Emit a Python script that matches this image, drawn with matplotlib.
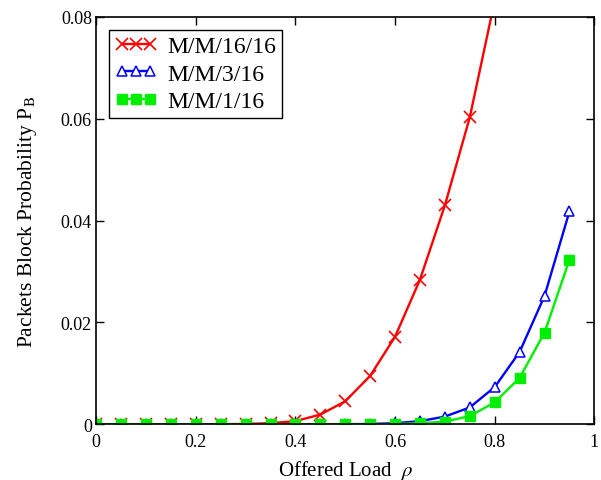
import matplotlib
matplotlib.use('Agg')
import matplotlib.pyplot as plt

# data
rho = [0.0, 0.05, 0.1, 0.15, 0.2, 0.25, 0.3, 0.35, 0.4, 0.45, 0.5,
       0.55, 0.6, 0.65, 0.7, 0.75, 0.8, 0.85, 0.9, 0.95]

pb_16_16 = [0.0, 0.0, 0.0, 0.0, 0.0, 0.0, 0.00005, 0.0002, 0.0006, 0.0019,
            0.0045, 0.0095, 0.0172, 0.0284, 0.0430, 0.0603, 0.0832]
pb_3_16 = [0.0, 0.0, 0.0, 0.0, 0.0, 0.0, 0.0, 0.0, 0.0, 0.0, 0.0,
           0.00005, 0.0002, 0.0006, 0.0015, 0.0033, 0.0073, 0.0142, 0.0252, 0.0418]
pb_1_16 = [0.0, 0.0, 0.0, 0.0, 0.0, 0.0, 0.0, 0.0, 0.0, 0.0, 0.0,
           0.0, 0.00005, 0.0002, 0.0005, 0.0016, 0.0043, 0.0091, 0.0180, 0.0323]

labels = ['M/M/16/16', 'M/M/3/16', 'M/M/1/16']
x_ticks = [0, 0.2, 0.4, 0.6, 0.8, 1]
x_tick_labels = ['0', '0.2', '0.4', '0.6', '0.8', '1']
y_ticks = [0, 0.02, 0.04, 0.06, 0.08]
y_tick_labels = ['0', '0.02', '0.04', '0.06', '0.08']

plt.rcParams['font.family'] = ['Liberation Serif', 'DejaVu Serif']
plt.rcParams['mathtext.fontset'] = 'stix'

fig = plt.figure(figsize=(6.01, 4.81), dpi=100)
ax = fig.add_axes([0.16, 0.116, 0.829, 0.847])

ax.plot(rho[:len(pb_16_16)], pb_16_16, color='#ff0000', lw=1.7, marker='x',
        ms=8, mew=1.2, label=labels[0])
ax.plot(rho, pb_3_16, color='#0000ff', lw=1.7, marker='^', ms=7, mew=1.1,
        mfc='white', label=labels[1])
ax.plot(rho, pb_1_16, color='#00ee00', lw=1.7, marker='s', ms=7,
        label=labels[2])

ax.set_xlim(0, 1)
ax.set_ylim(0, 0.08)
ax.set_xticks(x_ticks)
ax.set_xticklabels(x_tick_labels)
ax.set_yticks(y_ticks)
ax.set_yticklabels(y_tick_labels)
ax.tick_params(direction='in', top=True, right=True, length=6, width=1,
               labelsize=13)
ax.tick_params(axis='x', pad=6)
ax.tick_params(axis='y', pad=3)
for s in ax.spines.values():
    s.set_linewidth(1.2)

ax.set_xlabel(r'Offered Load  $\rho$', fontsize=15, labelpad=6)
ax.set_ylabel(r'Packets Block Probability P$_\mathrm{B}$', fontsize=15.5, labelpad=16)

leg = ax.legend(loc='upper left', fontsize=17, numpoints=3, fancybox=False,
                edgecolor='black', framealpha=1, handlelength=1.8,
                handletextpad=0.4, borderpad=0.25, labelspacing=0.25,
                borderaxespad=0.55)
leg.get_frame().set_linewidth(1.0)

fig.savefig('out.png', dpi=100)
